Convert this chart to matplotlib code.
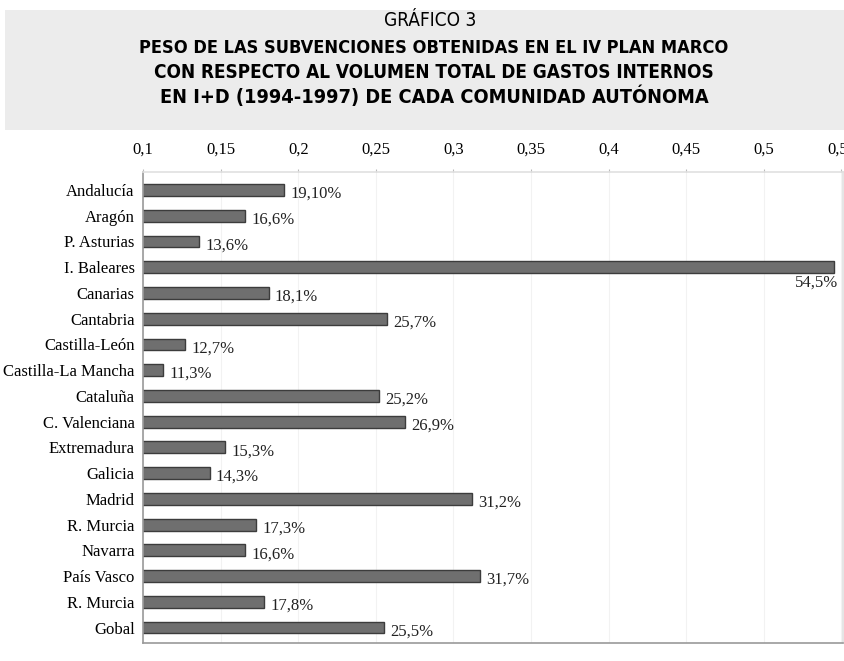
import numpy as np
import matplotlib.pyplot as plt
from matplotlib.patches import Rectangle

# ---------------- Data ----------------
REGIONS = [
    "Andalucía", "Aragón", "P. Asturias", "I. Baleares", "Canarias",
    "Cantabria", "Castilla-León", "Castilla-La Mancha", "Cataluña",
    "C. Valenciana", "Extremadura", "Galicia", "Madrid", "R. Murcia",
    "Navarra", "País Vasco", "R. Murcia", "Gobal",
]
VALUES = [0.191, 0.166, 0.136, 0.545, 0.181, 0.257, 0.127, 0.113, 0.252,
          0.269, 0.153, 0.143, 0.312, 0.173, 0.166, 0.317, 0.178, 0.255]
LABELS = ["19,10%", "16,6%", "13,6%", "54,5%", "18,1%", "25,7%", "12,7%",
          "11,3%", "25,2%", "26,9%", "15,3%", "14,3%", "31,2%", "17,3%",
          "16,6%", "31,7%", "17,8%", "25,5%"]
TICKS = [0.1, 0.15, 0.2, 0.25, 0.3, 0.35, 0.4, 0.45, 0.5, 0.55]
TICK_LABELS = ["0,1", "0,15", "0,2", "0,25", "0,3", "0,35", "0,4", "0,45", "0,5", "0,55"]

TITLE_1 = "GRÁFICO 3"
TITLE_LINES = [
    "PESO DE LAS SUBVENCIONES OBTENIDAS EN EL IV PLAN MARCO",
    "CON RESPECTO AL VOLUMEN TOTAL DE GASTOS INTERNOS",
    "EN I+D (1994-1997) DE CADA COMUNIDAD AUTÓNOMA",
]

SERIF = ["Liberation Serif", "DejaVu Serif"]
SANS = ["DejaVu Sans"]

fig = plt.figure(figsize=(8.45, 6.61), dpi=100)
renderer = fig.canvas.get_renderer()


def fitted_text(x_px, y_px, s, width_px, height_px, **kw):
    """Place centered text, squeezed horizontally to a target width."""
    t = fig.text(x_px / 845, 1 - y_px / 661, s, ha="center", va="center",
                 family=SANS, **kw)
    bb = t.get_window_extent(renderer)
    # pick size from height, then condense via stretch if too wide
    t.set_fontsize(t.get_fontsize() * height_px / bb.height)
    bb = t.get_window_extent(renderer)
    if bb.width > width_px:
        t.set_fontstretch("condensed")
        bb = t.get_window_extent(renderer)
        if bb.width > width_px:
            t.set_fontsize(t.get_fontsize() * width_px / bb.width)
    return t


# grey title band
fig.patches.append(Rectangle((5 / 845, 1 - 130 / 661), 840 / 845, 120 / 661,
                             transform=fig.transFigure, facecolor="#ececec",
                             edgecolor="none", zorder=0))
fitted_text(430, 21, TITLE_1, 92, 22, fontsize=16)
for yy, line, w in zip([48, 72, 96], TITLE_LINES, [588, 560, 548]):
    fitted_text(434, yy, line, w, 22, fontsize=16, fontweight="bold")

ax = fig.add_axes([143 / 845, 1 - 643 / 661, 700 / 845, 471 / 661])
y = np.arange(len(REGIONS))
ax.barh(y, VALUES, height=0.46, left=0, color="#6f6f6f",
        edgecolor="#3c3c3c", linewidth=1.0, zorder=2)

for yi, v, lab in zip(y, VALUES, LABELS):
    if v > 0.5:
        ax.text(v + 0.003, yi + 0.6, lab, ha="right", va="center",
                fontsize=12, family=SERIF, color="#222222")
    else:
        ax.text(v + 0.004, yi + 0.15, lab, ha="left", va="center",
                fontsize=12, family=SERIF, color="#222222")

ax.set_xlim(0.1, 0.551)
ax.set_ylim(len(REGIONS) - 0.4, -0.7)
ax.set_yticks(y)
ax.set_yticklabels(REGIONS, family=SERIF, fontsize=12)
ax.set_xticks(TICKS)
ax.set_xticklabels(TICK_LABELS, family=SERIF, fontsize=12)
ax.xaxis.tick_top()
ax.tick_params(axis="x", length=2, color="#bbbbbb", pad=8)
ax.tick_params(axis="y", length=0, pad=6)
ax.grid(axis="x", color="#f2f2f2", linewidth=0.8, zorder=0)

for side, sp in ax.spines.items():
    sp.set_color("#e0e0e0" if side in ("top", "right") else "#9a9a9a")
    sp.set_linewidth(1.2)

fig.savefig("out.png", dpi=100)
